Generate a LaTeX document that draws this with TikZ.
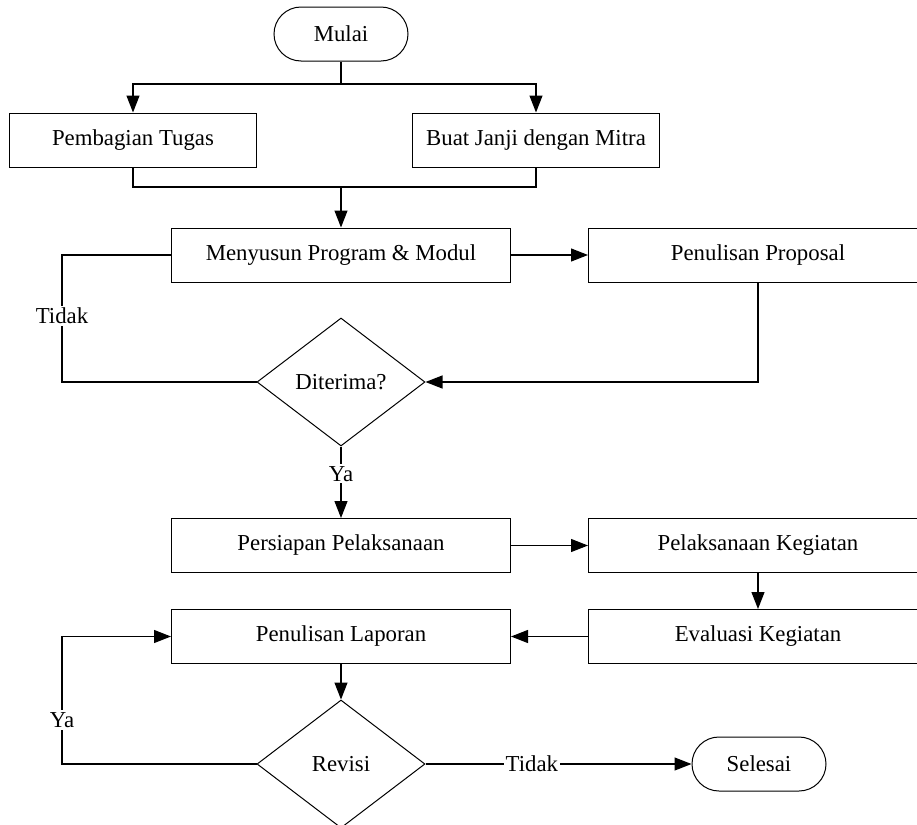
\documentclass[tikz,border=0pt]{standalone}
\usepackage{fontspec}
\setmainfont{Liberation Serif}
\usetikzlibrary{shapes.geometric,arrows.meta}
\begin{document}
\begin{tikzpicture}[x=0.5pt, y=-0.5pt, font=\fontsize{11.4}{13}\selectfont,
            box/.style={draw, rectangle, minimum width=169.5pt, minimum height=27pt, inner sep=0pt, line width=0.5pt},
            sbox/.style={draw, rectangle, minimum width=123.5pt, minimum height=27pt, inner sep=0pt, line width=0.5pt},
            term/.style={draw, rectangle, rounded corners=13.5pt, minimum width=67pt, minimum height=27pt, inner sep=0pt, line width=0.5pt},
            decide/.style={draw, diamond, aspect=1.3125, minimum width=84pt, minimum height=64pt, inner sep=0pt, line width=0.5pt},
            arr/.style={-{Triangle[length=8.5pt, width=6.5pt]}, line width=0.6pt},
            lin/.style={line width=0.6pt},
            lbl/.style={fill=white, inner sep=1pt}]
            \useasboundingbox (0,0) rectangle (917,825);
            \clip (0,0) rectangle (917,825);
            \node[term] (mulai) at (341,34) {Mulai};
            \node[sbox] (tugas) at (133,140) {Pembagian Tugas};
            \node[sbox] (janji) at (536,140) {Buat Janji dengan Mitra};
            \node[box] (menyusun) at (341,255) {Menyusun Program \& Modul};
            \node[box] (proposal) at (758,255) {Penulisan Proposal};
            \node[decide] (diterima) at (341,382) {Diterima?};
            \node[box] (persiapan) at (341,545.5) {Persiapan Pelaksanaan};
            \node[box] (pelaksanaan) at (758,545.5) {Pelaksanaan Kegiatan};
            \node[box] (evaluasi) at (758,636.5) {Evaluasi Kegiatan};
            \node[box] (laporan) at (341,636.5) {Penulisan Laporan};
            \node[decide] (revisi) at (341,764) {Revisi};
            \node[term] (selesai) at (759,764) {Selesai};
            \coordinate (split) at (341,84);
            \coordinate (join) at (341,187);
            \coordinate (tidakL) at (62,316);
            \coordinate (yaL) at (62,720);
            \draw[lin] (mulai.south) -- (split);
            \draw[arr] (split) -| (tugas.north);
            \draw[arr] (split) -| (janji.north);
            \draw[lin] (tugas.south) |- (join);
            \draw[lin] (janji.south) |- (join);
            \draw[arr] (join) -- (menyusun.north);
            \draw[arr] (menyusun.east) -- (proposal.west);
            \draw[arr] (proposal.south) |- (diterima.east);
            \draw[lin] (diterima.west) -| (tidakL) node[lbl] {Tidak} |- (menyusun.west);
            \draw[arr] (diterima.south) -- node[lbl, pos=0.38] {Ya} (persiapan.north);
            \draw[arr] (persiapan.east) -- (pelaksanaan.west);
            \draw[arr] (pelaksanaan.south) -- (evaluasi.north);
            \draw[arr] (evaluasi.west) -- (laporan.east);
            \draw[arr] (laporan.south) -- (revisi.north);
            \draw[arr] (revisi.west) -| (yaL) node[lbl] {Ya} |- (laporan.west);
            \draw[arr] (revisi.east) -- node[lbl, pos=0.40] {Tidak} (selesai.west);
        \end{tikzpicture}
\end{document}
